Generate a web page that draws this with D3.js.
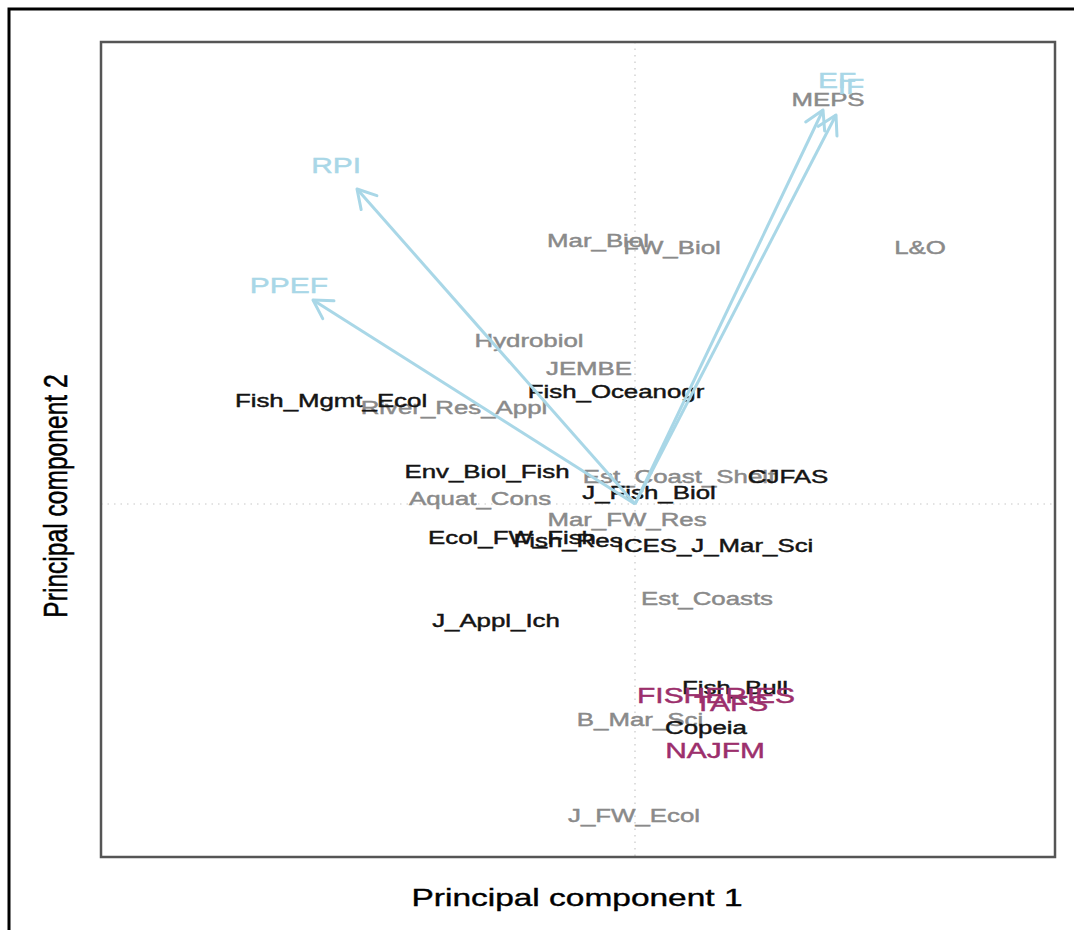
<!DOCTYPE html>
<html>
<head>
<meta charset="utf-8">
<script src="https://cdn.jsdelivr.net/npm/d3@7"></script>
<style>
  body { margin: 0; background: #fff; }
  svg { display: block; }
  text { font-family: "Liberation Sans", Arial, Helvetica, sans-serif; }
</style>
</head>
<body>
<div id="viz"></div>
<script>
// journal scores on the first two principal components
const greyNames = ["MEPS", "Mar_Biol", "FW_Biol", "L&O", "Hydrobiol", "JEMBE", "River_Res_Appl",
    "Est_Coast_Shelf", "Aquat_Cons", "Mar_FW_Res", "Est_Coasts", "B_Mar_Sci", "J_FW_Ecol"];
const greyPC1 = [1.93, -0.37, 0.37, 2.85, -1.06, -0.46, -1.81, 0.44, -1.55, -0.08, 0.72, 0.05, -0.01];
const greyPC2 = [4.05, 2.64, 2.57, 2.57, 1.64, 1.36, 0.97, 0.28, 0.06, -0.15, -0.94, -2.15, -3.11];

const blackNames = ["Fish_Mgmt_Ecol", "Fish_Oceanogr", "Env_Biol_Fish", "J_Fish_Biol", "CJFAS",
    "Ecol_FW_Fish", "Fish_Res", "ICES_J_Mar_Sci", "J_Appl_Ich", "Fish_Bull", "Copeia"];
const blackPC1 = [-3.04, -0.19, -1.48, 0.14, 1.53, -1.23, -0.67, 0.80, -1.39, 1.00, 0.71];
const blackPC2 = [1.04, 1.13, 0.33, 0.12, 0.28, -0.33, -0.36, -0.41, -1.16, -1.83, -2.23];

const pinkNames = ["FISHERIES", "TAFS", "NAJFM"];
const pinkPC1 = [0.81, 0.96, 0.80];
const pinkPC2 = [-1.91, -1.99, -2.46];

// loadings of the metrics
const metricNames = ["RPI", "PPEF", "EF", "IF"];
const metricPC1 = [-2.78, -3.22, 1.88, 2.01];
const metricPC2 = [3.15, 2.04, 3.94, 3.89];

const xLabel = "Principal component 1";
const yLabel = "Principal component 2";

function drawChart() {
    const dimensions = {
        width: 1074,
        height: 930,
        margins: { left: 101, right: 19, top: 42, bottom: 73 }
    };
    dimensions.boundedWidth = dimensions.width - dimensions.margins.left - dimensions.margins.right;
    dimensions.boundedHeight = dimensions.height - dimensions.margins.top - dimensions.margins.bottom;

    const stretch = 1.36; // text in the picture is drawn wider than tall

    const viz = d3.select('#viz').append('svg')
        .attr('width', dimensions.width)
        .attr('height', dimensions.height);

    // outer frame (only top and left visible)
    viz.append('path')
        .attr('d', `M9,${dimensions.height} L9,9 L${dimensions.width},9`)
        .attr('fill', 'none')
        .attr('stroke', '#000')
        .attr('stroke-width', 3);

    const x = d3.scaleLinear()
        .domain([-5.34, 4.20])
        .range([dimensions.margins.left, dimensions.margins.left + dimensions.boundedWidth]);
    const y = d3.scaleLinear()
        .domain([-3.53, 4.62])
        .range([dimensions.margins.top + dimensions.boundedHeight, dimensions.margins.top]);

    // zero lines
    viz.append('line')
        .attr('x1', x(0)).attr('x2', x(0))
        .attr('y1', y.range()[1]).attr('y2', y.range()[0])
        .attr('stroke', '#c8c8c8').attr('stroke-width', 1.2)
        .attr('stroke-dasharray', '1.5,5');
    viz.append('line')
        .attr('x1', x.range()[0]).attr('x2', x.range()[1])
        .attr('y1', y(0)).attr('y2', y(0))
        .attr('stroke', '#c8c8c8').attr('stroke-width', 1.2)
        .attr('stroke-dasharray', '1.5,5');

    const place = (px, py, s) => `translate(${px},${py}) scale(${s},1)`;

    function addLabels(names, xs, ys, color, size) {
        viz.append('g')
            .selectAll('text')
            .data(names)
            .enter().append('text')
                .attr('transform', (d, i) => place(x(xs[i]), y(ys[i]), stretch))
                .attr('dy', '0.36em')
                .attr('text-anchor', 'middle')
                .attr('font-size', size)
                .attr('fill', color)
                .attr('stroke', color)
                .attr('stroke-width', 0.45)
                .text(d => d);
    }

    addLabels(greyNames, greyPC1, greyPC2, '#8a8a8a', 19);
    addLabels(blackNames, blackPC1, blackPC2, '#141414', 19);
    addLabels(pinkNames, pinkPC1, pinkPC2, '#9c2f6c', 22);

    // arrows for the metrics
    const arrowColor = '#a9d7e7';
    const arrows = viz.append('g');
    metricNames.forEach((name, i) => {
        const x0 = x(0), y0 = y(0);
        const x1 = x(metricPC1[i]), y1 = y(metricPC2[i]);
        arrows.append('line')
            .attr('x1', x0).attr('y1', y0)
            .attr('x2', x1).attr('y2', y1)
            .attr('stroke', arrowColor)
            .attr('stroke-width', 3);
        const ang = Math.atan2(y0 - y1, x0 - x1);
        const len = 21, spread = Math.PI / 6;
        const head = [ang - spread, ang + spread].map(a => [x1 + len * Math.cos(a), y1 + len * Math.sin(a)]);
        arrows.append('path')
            .attr('d', `M${head[0][0]},${head[0][1]} L${x1},${y1} L${head[1][0]},${head[1][1]}`)
            .attr('fill', 'none')
            .attr('stroke', arrowColor)
            .attr('stroke-width', 3)
            .attr('stroke-linecap', 'round')
            .attr('stroke-linejoin', 'round');
    });

    viz.append('g')
        .selectAll('text')
        .data(metricNames)
        .enter().append('text')
            .attr('transform', (d, i) => place(x(metricPC1[i] * 1.075), y(metricPC2[i] * 1.075), stretch))
            .attr('dy', '0.36em')
            .attr('text-anchor', 'middle')
            .attr('font-size', 22)
            .attr('fill', arrowColor)
            .attr('stroke', arrowColor)
            .attr('stroke-width', 0.45)
            .text(d => d);

    // plot box
    viz.append('rect')
        .attr('x', x.range()[0])
        .attr('y', y.range()[1])
        .attr('width', dimensions.boundedWidth)
        .attr('height', dimensions.boundedHeight)
        .attr('fill', 'none')
        .attr('stroke', '#555')
        .attr('stroke-width', 2.5);

    // axis titles
    viz.append('text')
        .attr('transform', place(577, 897, stretch))
        .attr('dy', '0.36em')
        .attr('text-anchor', 'middle')
        .attr('font-size', 24.6)
        .attr('fill', '#000')
        .attr('stroke', '#000')
        .attr('stroke-width', 0.4)
        .text(xLabel);

    viz.append('text')
        .attr('transform', `translate(55,496) scale(${stretch},1) rotate(-90)`)
        .attr('dy', '0.36em')
        .attr('text-anchor', 'middle')
        .attr('font-size', 24.6)
        .attr('fill', '#000')
        .attr('stroke', '#000')
        .attr('stroke-width', 0.4)
        .text(yLabel);
}

drawChart();
</script>
</body>
</html>
